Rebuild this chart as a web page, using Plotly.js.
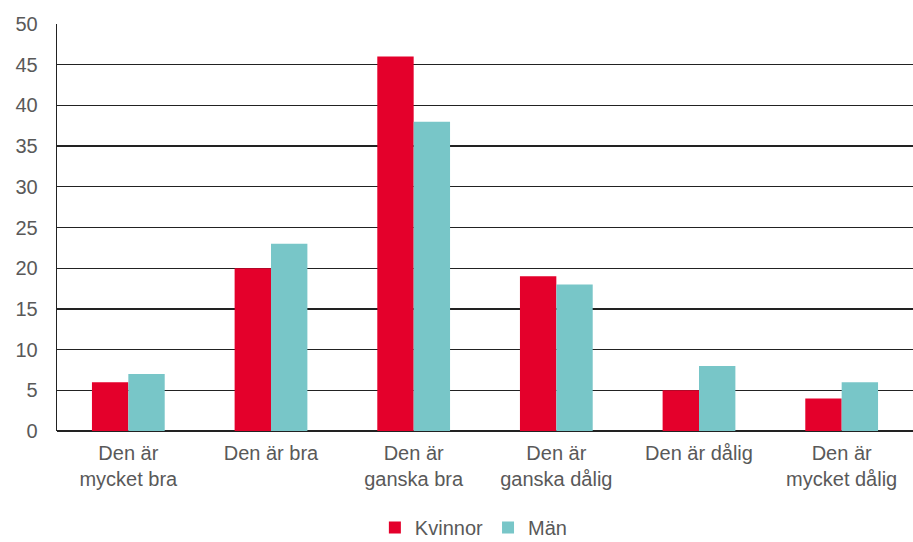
<!DOCTYPE html>
<html><head><meta charset="utf-8">
<script src="https://cdn.plot.ly/plotly-3.0.1.min.js"></script>
<style>html,body{margin:0;padding:0;background:#fff}#c{width:913px;height:542px}</style>
</head><body><div id="c"></div>
<script>
const categories = ["Den är<br>mycket bra","Den är bra","Den är<br>ganska bra","Den är<br>ganska dålig","Den är dålig","Den är<br>mycket dålig"];
const kvinnor = [6,20,46,19,5,4];
const man = [7,23,38,18,8,6];
const yTicks = [0,5,10,15,20,25,30,35,40,45,50];

const font = {family:"Liberation Sans, Arial, sans-serif", size:20, color:"#595959"};
Plotly.newPlot("c", [
  {type:"bar", name:"Kvinnor", x:categories, y:kvinnor, marker:{color:"#E4002B"}},
  {type:"bar", name:"Män", x:categories, y:man, marker:{color:"#78C6C8"}}
], {
  width:913, height:542,
  margin:{l:57, r:0, t:24, b:111, autoexpand:false},
  barmode:"group", bargap:0.49, bargroupgap:0,
  font:font,
  paper_bgcolor:"#fff", plot_bgcolor:"#fff",
  xaxis:{tickfont:font, showgrid:false, ticks:"", showline:false, automargin:false, ticklabelstandoff:8},
  yaxis:{range:[0,50], tickvals:yTicks, tickfont:font, gridcolor:"#222", gridwidth:1.3,
         showline:true, linecolor:"#222", linewidth:1.3, ticks:"", zeroline:true, zerolinecolor:"#222", zerolinewidth:1.3, automargin:false, ticklabelstandoff:14},
  legend:{orientation:"h", x:0.487, xanchor:"center", y:-0.237, yanchor:"middle", font:font, itemwidth:20, traceorder:"normal"},
  showlegend:true
}, {displayModeBar:false, staticPlot:true});
</script></body></html>
